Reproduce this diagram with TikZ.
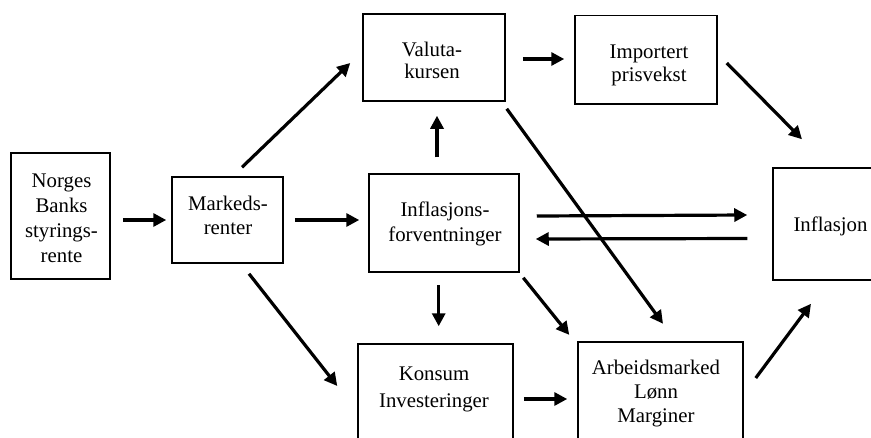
\documentclass[tikz,border=0pt]{standalone}
\usepackage{fontspec}
\setmainfont{Liberation Serif}
\usetikzlibrary{arrows.meta,calc}
\begin{document}
\begin{tikzpicture}[x=1pt,y=-1pt,
  boxnode/.style={draw,line width=1.5pt,inner sep=0pt,minimum width=#1},
  txt/.style={anchor=north,inner sep=0pt,align=center,font=\fontsize{20.8}{#1}\selectfont},
  arr/.style={line width=3.2pt,-{Triangle[length=13pt,width=13pt]}}]
\useasboundingbox (0,0) rectangle (871,437);
\clip (0,0) rectangle (871,437);
% boxes
\node[boxnode=99pt,minimum height=126pt] (norges) at (60.5,216) {};
\node[boxnode=111pt,minimum height=86pt] (markeds) at (227.5,220) {};
\node[boxnode=142pt,minimum height=87pt] (valuta) at (434,57.5) {};
\node[boxnode=142pt,minimum height=88.5pt] (importert) at (646,59.75) {};
\node[boxnode=150pt,minimum height=98pt] (inflforv) at (444,223) {};
\node[boxnode=115pt,minimum height=112pt] (inflasjon) at (830.5,224) {};
\node[boxnode=155pt,minimum height=116pt] (konsum) at (435.5,402) {};
\node[boxnode=165pt,minimum height=118pt] (arbeids) at (660.5,401) {};
% texts
\node[txt=25] (norgesT) at (61.5,169.5) {\strut Norges\\Banks\\styrings-\\rente};
\node[txt=24] (markedsT) at (228,193.2) {\strut Markeds-\\renter};
\node[txt=21.7] (valutaT) at (432,41.5) {\strut Valuta-\\kursen};
\node[txt=22.7] (importertT) at (649,42.4) {\strut Importert\\prisvekst};
\node[txt=25] (inflforvT) at (445,199.2) {\strut Inflasjons-\\forventninger};
\node[txt=25] (inflasjonT) at (830.5,213.5) {\strut Inflasjon};
\node[txt=27] (konsumT) at (434,361.1) {\strut Konsum\\Investeringer};
\node[txt=24] (arbeidsT) at (656,357.2) {\strut Arbeidsmarked\\Lønn\\Marginer};
% connectors
\draw[arr] ($(norges.east)+(12,4)$) -- ($(markeds.west)+(-5,0)$);
\draw[arr] ($(markeds.north)+(14.5,-9)$) -- ($(valuta.west)+(-12,5.5)$);
\draw[arr] ($(markeds.east)+(11,0)$) -- ($(inflforv.west)+(-9,-3)$);
\draw[arr] ($(markeds.south)+(21.5,10)$) -- ($(konsum.west)+(-20,-16)$);
\draw[arr] ($(valuta.east)+(17,1.5)$) -- ($(importert.west)+(-10,-0.75)$);
\draw[arr] ($(importert.east)+(9,3.25)$) -- ($(inflasjon.north)+(-28.5,-28)$);
\draw[arr] ($(inflforv.north)+(-7,-16)$) -- ($(valuta.south)+(3,14)$);
\draw[arr] ($(valuta.south east)+(1,7)$) -- ($(arbeids.north)+(2.5,-17.5)$);
\draw[arr] ($(inflforv.east)+(17,-7)$) -- ($(inflasjon.west)+(-25,-9)$);
\draw[arr] ($(inflasjon.west)+(-25,14.5)$) -- ($(inflforv.east)+(16,16)$);
\draw[arr] ($(inflforv.south)+(-5.3,12.5)$) -- ($(konsum.north)+(3.2,-17)$);
\draw[arr] ($(inflforv.south east)+(3.5,5)$) -- ($(arbeids.north west)+(-8,-6.4)$);
\draw[arr] ($(konsum.east)+(10,-3)$) -- ($(arbeids.west)+(-10,-2)$);
\draw[arr] ($(arbeids.east)+(12,-23)$) -- ($(inflasjon.south)+(-19.5,23)$);
\end{tikzpicture}
\end{document}
